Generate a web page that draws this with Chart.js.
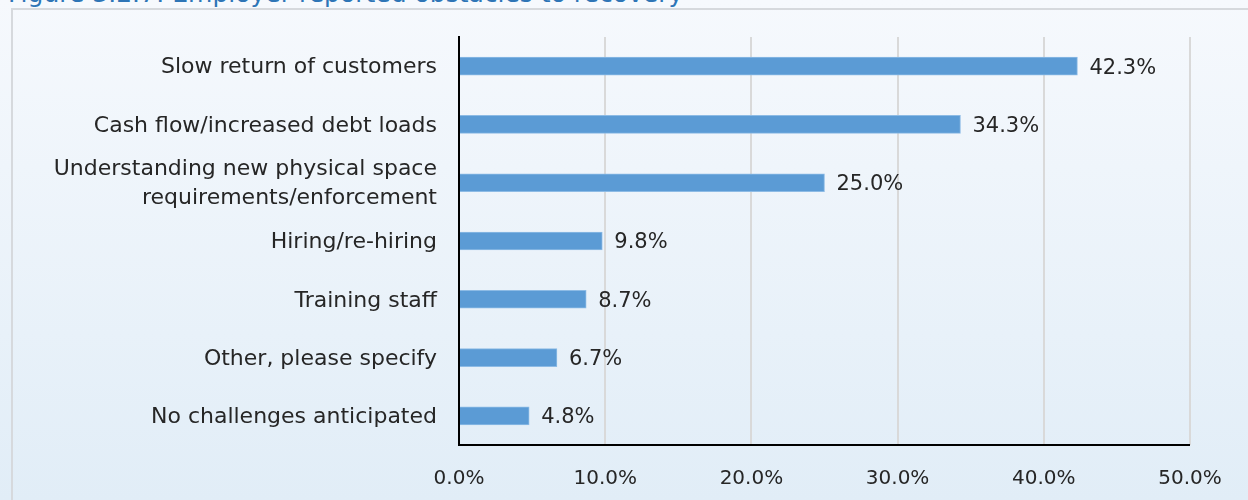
<!DOCTYPE html>
<html>
<head>
<meta charset="utf-8">
<script src="https://cdn.jsdelivr.net/npm/chart.js@4/dist/chart.umd.min.js"></script>
<style>
  html, body { margin: 0; padding: 0; }
  body {
    width: 1248px; height: 500px; overflow: hidden; position: relative;
    background: linear-gradient(#f6f9fd, #e1edf7);
    font-family: "DejaVu Sans", sans-serif;
  }
  .fig-title {
    position: absolute; left: 8px; top: -21px;
    font-size: 25px; color: #2e75b6; white-space: nowrap;
  }
  .frame {
    position: absolute; left: 11px; top: 8px; width: 1300px; height: 600px;
    border: 2px solid #d6d9dd; box-sizing: border-box;
  }
  #wrap { position: absolute; left: 0; top: 0; width: 1248px; height: 500px; }
</style>
</head>
<body>
<div class="fig-title">Figure 3.2.7: Employer reported obstacles to recovery</div>
<div class="frame"></div>
<div id="wrap"><canvas id="chart"></canvas></div>
<script>
// obstacles, top to bottom
const categories = [
  'Slow return of customers',
  'Cash flow/increased debt loads',
  ['Understanding new physical space', 'requirements/enforcement'],
  'Hiring/re-hiring',
  'Training staff',
  'Other, please specify',
  'No challenges anticipated'
];
const shares = [42.3, 34.3, 25.0, 9.8, 8.7, 6.7, 4.8];
const xTicks = [0, 10, 20, 30, 40, 50];

const textColor = '#262626';

// value labels at the end of each bar
const barLabels = {
  id: 'barLabels',
  afterDatasetsDraw(chart) {
    const ctx = chart.ctx;
    const meta = chart.getDatasetMeta(0);
    ctx.save();
    ctx.font = '21px "DejaVu Sans"';
    ctx.fillStyle = textColor;
    ctx.textBaseline = 'middle';
    meta.data.forEach((bar, i) => {
      ctx.fillText(shares[i].toFixed(1) + '%', bar.x + 12, bar.y + 2);
    });
    ctx.restore();
  }
};

new Chart(document.getElementById('chart'), {
  type: 'bar',
  data: {
    labels: categories,
    datasets: [{
      data: shares,
      backgroundColor: '#5b9bd5',
      borderColor: '#8dbbe5',
      borderWidth: 1,
      barThickness: 18
    }]
  },
  options: {
    indexAxis: 'y',
    responsive: true,
    maintainAspectRatio: false,
    animation: false,
    layout: { padding: { left: 0, right: 58, top: 37, bottom: 0 } },
    plugins: { legend: { display: false }, tooltip: { enabled: false } },
    scales: {
      x: {
        min: 0, max: 50,
        afterBuildTicks(axis) { axis.ticks = xTicks.map(v => ({ value: v })); },
        afterFit(axis) { axis.height = 55; },
        grid: { color: '#d9d9d9', lineWidth: 2, drawTicks: false },
        border: { display: false },
        ticks: {
          padding: 22,
          color: textColor,
          font: { family: 'DejaVu Sans', size: 20 },
          callback: v => v.toFixed(1) + '%'
        }
      },
      y: {
        afterFit(axis) { axis.width = 459; },
        grid: { display: false },
        border: { display: true, color: '#000', width: 2 },
        ticks: {
          autoSkip: false,
          padding: 14,
          labelOffset: 1.5,
          color: textColor,
          font: { family: 'DejaVu Sans', size: 22, lineHeight: 1.32 }
        }
      }
    }
  },
  plugins: [barLabels, {
    id: 'xBaseline',
    afterDatasetsDraw(chart) {
      const { ctx, chartArea } = chart;
      ctx.save();
      ctx.strokeStyle = '#000';
      ctx.lineWidth = 2;
      ctx.beginPath();
      ctx.moveTo(chartArea.left, chartArea.bottom);
      ctx.lineTo(chartArea.right, chartArea.bottom);
      ctx.stroke();
      ctx.restore();
    }
  }]
});
</script>
</body>
</html>
